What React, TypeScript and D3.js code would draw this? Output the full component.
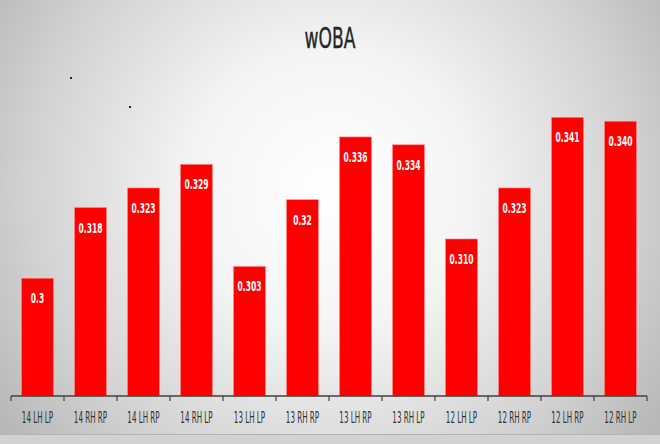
import React from "react";
import * as d3 from "d3";

const categories = ["14 LH LP", "14 RH RP", "14 LH RP", "14 RH LP", "13 LH LP", "13 RH RP", "13 LH RP", "13 RH LP", "12 LH LP", "12 RH RP", "12 LH RP", "12 RH LP"];
const values = [0.3, 0.318, 0.323, 0.329, 0.303, 0.32, 0.336, 0.334, 0.31, 0.323, 0.341, 0.34];
const valueLabels = ["0.3", "0.318", "0.323", "0.329", "0.303", "0.32", "0.336", "0.334", "0.310", "0.323", "0.341", "0.340"];
const title = "wOBA";

const W = 660;
const H = 444;
const FONT = "'DejaVu Sans Condensed', 'Liberation Sans', sans-serif";

export default function App() {
  const x = d3.scaleBand<string>().domain(categories).range([11, 647]).paddingInner(0.4).paddingOuter(0.2);
  const y = d3.scaleLinear().domain([0.27, 0.35]).range([396, 82]);
  const ticks = d3.range(categories.length + 1).map((i) => 11 + i * ((647 - 11) / categories.length));

  return (
    <svg width={W} height={H} style={{ position: "absolute", left: 0, top: 0, display: "block" }}>
      <defs>
        <radialGradient id="bg" gradientUnits="userSpaceOnUse" cx={330} cy={190} r={400} fx={330} fy={190}>
          <stop offset="0" stopColor="#ffffff" />
          <stop offset="0.35" stopColor="#f4f4f4" />
          <stop offset="0.75" stopColor="#d2d2d2" />
          <stop offset="1" stopColor="#b8b8b8" />
        </radialGradient>
      </defs>
      <rect x={0} y={0} width={W} height={H} fill="url(#bg)" />
      <rect x={0} y={435} width={W} height={9} fill="#d2d2d2" />
      <line x1={0} x2={W} y1={434.5} y2={434.5} stroke="#b4b4b4" strokeWidth={1} />

      <g transform="translate(330,48)">
        <text transform="scale(0.68,1)" textAnchor="middle" fontFamily={FONT} fontSize={28} fill="#262626" stroke="#262626" strokeWidth={0.4}>
          {title}
        </text>
      </g>

      <rect x={70} y={77} width={2} height={2} fill="#222" />
      <rect x={129} y={106} width={2} height={2} fill="#222" />

      {categories.map((c, i) => {
        const bx = x(c) as number;
        const bw = x.bandwidth();
        const top = y(values[i]);
        const cx = bx + bw / 2;
        return (
          <g key={c}>
            <rect x={bx} y={top} width={bw} height={y(0.27) - top} fill="#ff0000" stroke="#ff8080" strokeWidth={0.6} />
            <g transform={`translate(${cx},${top + 25})`}>
              <text transform="scale(0.6,1)" textAnchor="middle" fontFamily={FONT} fontWeight="bold" fontSize={14} fill="#ffffff">
                {valueLabels[i]}
              </text>
            </g>
            <g transform={`translate(${cx},${423})`}>
              <text transform="scale(0.53,1)" textAnchor="middle" fontFamily={FONT} fontSize={15} fill="#333333">
                {c}
              </text>
            </g>
          </g>
        );
      })}

      <line x1={11} x2={647} y1={396} y2={396} stroke="#404040" strokeWidth={1.5} />
      {ticks.map((t, i) => (
        <line key={i} x1={t} x2={t} y1={396} y2={401} stroke="#404040" strokeWidth={1.2} />
      ))}
    </svg>
  );
}
